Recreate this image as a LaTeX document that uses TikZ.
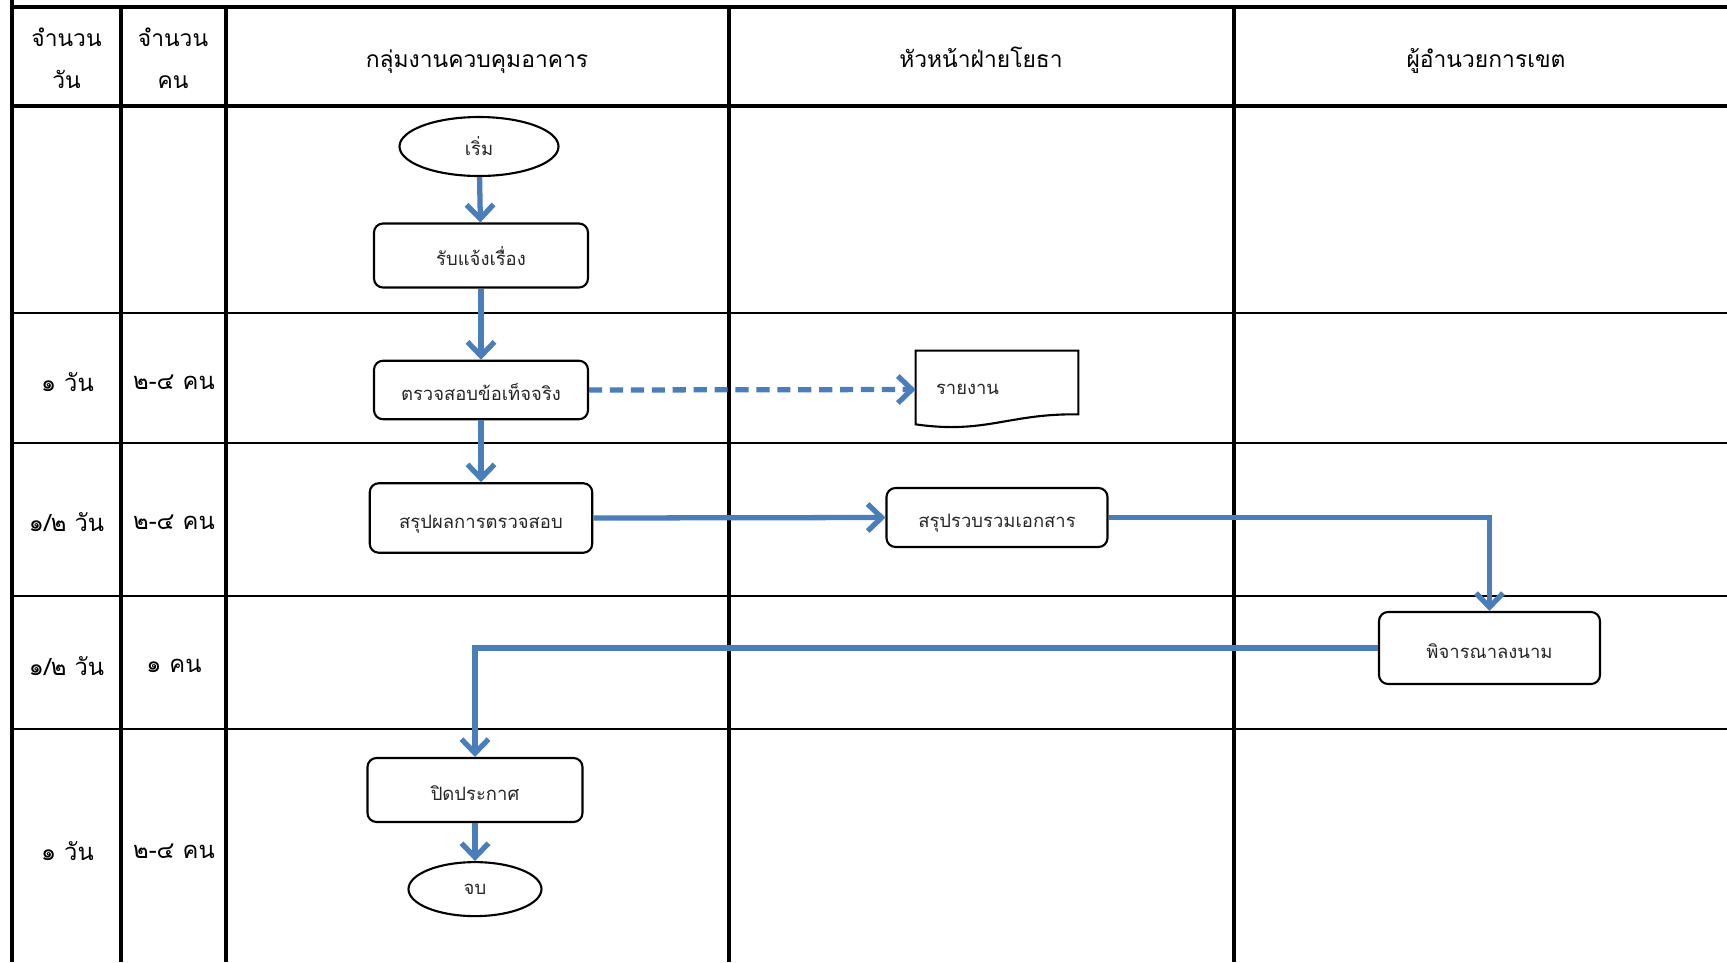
\documentclass[tikz,border=0pt]{standalone}
\usepackage{fontspec}
\setmainfont[Script=Thai]{Loma}
\usetikzlibrary{arrows.meta,positioning,shapes.geometric}
\definecolor{flowblue}{RGB}{74,126,187}

\newcommand{\lanehead}[1]{{\fontsize{13}{20}\selectfont#1}}

\begin{document}
\begin{tikzpicture}[x=1cm, y=-1cm]
		\tikzstyle{every node}=[font=\fontsize{10.5}{13}\selectfont, text=black!85]
		\tikzstyle{flowbox}=[draw=black, line width=1.2pt, rounded corners=1.8mm, minimum width=4.28cm, minimum height=1.2cm, text height=2.6ex, text depth=0.4ex]
		\tikzstyle{terminal}=[draw=black, line width=1.2pt, ellipse, inner sep=0pt]
		\tikzstyle{flowarrow}=[draw=flowblue, line width=3pt, -{Straight Barb[length=2.8mm,width=5.4mm]}]
		\tikzstyle{lanerule}=[line width=1.9pt]
		\tikzstyle{rowrule}=[line width=0.9pt]
		\tikzstyle{cell}=[font=\fontsize{13.5}{20}\selectfont, text=black, align=center]
		\tikzstyle{headcell}=[font=\fontsize{13}{24}\selectfont, text=black, align=center]
		\def\xR{34.54}
		\def\yB{19.24}

		\useasboundingbox (0,0) rectangle (\xR,\yB);

		% table
		\draw[lanerule] (0.24,0) -- (0.24,\yB);
		\draw[lanerule] (0.24,0.14) -- (\xR,0.14);
		\draw[lanerule] (0.24,2.12) -- (\xR,2.12);
		\foreach \x in {2.42,4.52,14.58,24.68}
			\draw[lanerule] (\x,0.14) -- (\x,\yB);
		\foreach \y in {6.26,8.86,11.92,14.58}
			\draw[rowrule] (0.24,\y) -- (\xR,\y);

		% headings
		\node[headcell] (daysHead) at (1.33,1.17) {จำนวน\\วัน};
		\node[headcell] (peopleHead) at (3.46,1.17) {จำนวน\\คน};
		\node[headcell, anchor=base] (laneA) at (9.54,1.34) {\lanehead{กลุ่มงานควบคุมอาคาร}};
		\node[headcell, anchor=base] (laneB) at (19.62,1.34) {\lanehead{หัวหน้าฝ่ายโยธา}};
		\node[headcell, anchor=base] (laneC) at (29.72,1.34) {\lanehead{ผู้อำนวยการเขต}};

		% time and staff per row
		\node[cell] (daysA) at (1.35,7.64) {๑ วัน};
		\node[cell] (peopleA) at (3.48,7.64) {๒-๔ คน};
		\node[cell] (daysB) at (1.33,10.44) {๑/๒ วัน};
		\node[cell] (peopleB) at (3.48,10.44) {๒-๔ คน};
		\node[cell] (daysC) at (1.33,13.32) {๑/๒ วัน};
		\node[cell] (peopleC) at (3.48,13.32) {๑ คน};
		\node[cell] (daysD) at (1.35,17.02) {๑ วัน};
		\node[cell] (peopleD) at (3.48,17.02) {๒-๔ คน};

		% flow
		\node[terminal, minimum width=3.18cm, minimum height=1.18cm] (start) at (9.58,2.93) {เริ่ม};
		\node[flowbox, minimum height=1.28cm] (receive) at (9.62,5.11) {รับแจ้งเรื่อง};
		\node[flowbox, minimum height=1.17cm] (inspect) at (9.62,7.80) {ตรวจสอบข้อเท็จจริง};
		\node[minimum width=3.24cm, minimum height=1.54cm, text width=2.44cm,
			inner xsep=0.4cm, align=left] (report) at (19.94,7.79) {รายงาน};
		\node[flowbox, minimum width=4.45cm, minimum height=1.39cm] (conclude) at (9.62,10.36) {สรุปผลการตรวจสอบ};
		\node[flowbox, minimum width=4.42cm, minimum height=1.18cm] (collect) at (19.94,10.35) {สรุปรวบรวมเอกสาร};
		\node[flowbox, minimum width=4.42cm, minimum height=1.44cm] (approve) at (29.79,12.96) {พิจารณาลงนาม};
		\node[flowbox, minimum width=4.3cm, minimum height=1.28cm] (announce) at (9.5,15.8) {ปิดประกาศ};
		\node[terminal, minimum width=2.66cm, minimum height=1.08cm, below=7.6mm of announce] (finish) {จบ};

		\draw[line width=1.2pt] (report.north west) -- (report.north east)
			-- ([yshift=0.28cm]report.south east)
			.. controls ([xshift=-1.4cm,yshift=0.3cm]report.south east) and ([xshift=1.4cm,yshift=-0.12cm]report.south west)
			.. ([yshift=0.08cm]report.south west) -- cycle;

		\draw[flowarrow] (start) -- (receive);
		\draw[flowarrow] (receive) -- (inspect);
		\draw[flowarrow] (inspect) -- (conclude);
		\draw[flowarrow, dash pattern=on 7.5pt off 4.4pt] (inspect.east) -- (report.west);
		\draw[flowarrow] (conclude.east) -- (collect.west);
		\draw[flowarrow] (collect.east) -| (approve.north);
		\draw[flowarrow] (approve.west) -| (announce.north);
		\draw[flowarrow] (announce) -- (finish);
\end{tikzpicture}
\end{document}
